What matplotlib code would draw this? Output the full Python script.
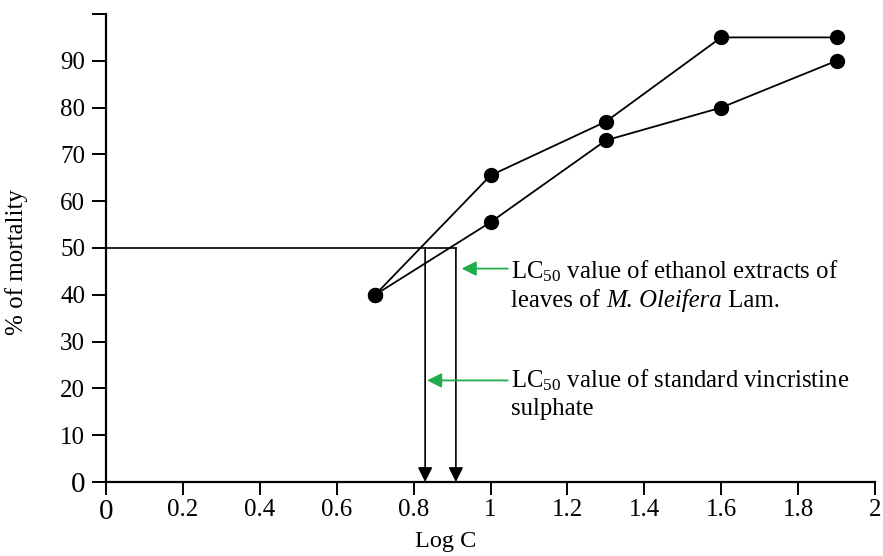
import matplotlib
matplotlib.use("Agg")
import matplotlib.pyplot as plt
from matplotlib import transforms

plt.rcParams['font.family'] = ['Liberation Serif', 'DejaVu Serif']
plt.rcParams['mathtext.fontset'] = 'custom'
plt.rcParams['mathtext.rm'] = 'Liberation Serif'
plt.rcParams['mathtext.it'] = 'Liberation Serif:italic'

# Data
log_c = [0.7, 1.0, 1.3, 1.6, 1.9]
mortality_upper = [40, 65.5, 77, 95, 95]
mortality_lower = [40, 55.5, 73, 80, 90]
lc50_level = 50
lc50_upper = 0.83   # standard vincristine sulphate
lc50_lower = 0.91   # ethanol extract
x_ticks = [0, 0.2, 0.4, 0.6, 0.8, 1.0, 1.2, 1.4, 1.6, 1.8, 2.0]
x_tick_labels = ["0", "0.2", "0.4", "0.6", "0.8", "1", "1.2", "1.4", "1.6", "1.8", "2"]
y_ticks = [0, 10, 20, 30, 40, 50, 60, 70, 80, 90, 100]
y_tick_labels = ["0", "10", "20", "30", "40", "50", "60", "70", "80", "90", ""]

green = '#1fae4b'

fig = plt.figure(figsize=(8.83, 5.56), dpi=100)
ax = fig.add_axes([106/883, 1-482/556, 769/883, (482-14)/556])

ax.set_xlim(0, 2)
ax.set_ylim(0, 100)
for s in ['top', 'right']:
    ax.spines[s].set_visible(False)
for s in ['left', 'bottom']:
    ax.spines[s].set_linewidth(1.6)

ax.plot(log_c, mortality_upper, color='black', lw=1.3, marker='o', ms=10, zorder=3)
ax.plot(log_c, mortality_lower, color='black', lw=1.3, marker='o', ms=10, zorder=3)

# horizontal LC50 line
ax.plot([0, lc50_lower], [lc50_level, lc50_level], color='black', lw=1.2)
for xv in [lc50_upper, lc50_lower]:
    ax.annotate('', xy=(xv, 0), xytext=(xv, lc50_level),
                arrowprops=dict(arrowstyle='-|>', color='black', lw=1.2,
                                mutation_scale=22, shrinkA=0, shrinkB=0))

# green annotation arrows
ax.annotate('', xy=(0.925, 45.6), xytext=(1.045, 45.6),
            arrowprops=dict(arrowstyle='-|>', color=green, lw=1.3,
                            mutation_scale=22, shrinkA=0, shrinkB=0))
ax.annotate('', xy=(0.835, 21.7), xytext=(1.045, 21.7),
            arrowprops=dict(arrowstyle='-|>', color=green, lw=1.3,
                            mutation_scale=22, shrinkA=0, shrinkB=0))

fs_txt = 17.8
ax.text(1.053, 43.5, r"LC$_{50}$ value of ethanol extracts of", fontsize=fs_txt, va='baseline', ha='left')
ax.text(1.053, 20.3, r"LC$_{50}$ value of standard vincristine", fontsize=fs_txt, va='baseline', ha='left')
ax.text(1.053, 14.3, r"sulphate", fontsize=fs_txt, va='baseline', ha='left')

# mixed-style line: "leaves of M. Oleifera Lam."
fig.canvas.draw()
renderer = fig.canvas.get_renderer()
pieces = [("leaves of ", 'normal'), ("M. Oleifera", 'italic'), (" Lam.", 'normal')]
t = ax.text(1.053, 37.3, pieces[0][0], fontsize=fs_txt, va='baseline', ha='left', style=pieces[0][1])
for txt, sty in pieces[1:]:
    t.draw(renderer)
    ex = t.get_window_extent(renderer)
    tr = transforms.offset_copy(t.get_transform(), fig=fig, x=ex.width, units='dots')
    t = ax.text(t._x, t._y, txt, fontsize=fs_txt, va='baseline', ha='left', style=sty, transform=tr)

ax.set_xticks(x_ticks)
ax.set_xticklabels(x_tick_labels, fontsize=18)
ax.set_yticks(y_ticks)
ax.set_yticklabels(y_tick_labels, fontsize=18)
ax.tick_params(axis='x', direction='out', length=9, width=1.4, pad=3)
ax.tick_params(axis='y', direction='out', length=10, width=1.4, pad=5)
ax.get_xticklabels()[0].set_fontsize(21)
ax.get_yticklabels()[0].set_fontsize(21)

ax.set_xlabel("Log C", fontsize=17.5)
ax.xaxis.set_label_coords(0.441, -0.105)
ax.set_ylabel("% of mortality", fontsize=18)
ax.yaxis.set_label_coords(-0.102, 0.47)

fig.savefig("out.png", dpi=100)
